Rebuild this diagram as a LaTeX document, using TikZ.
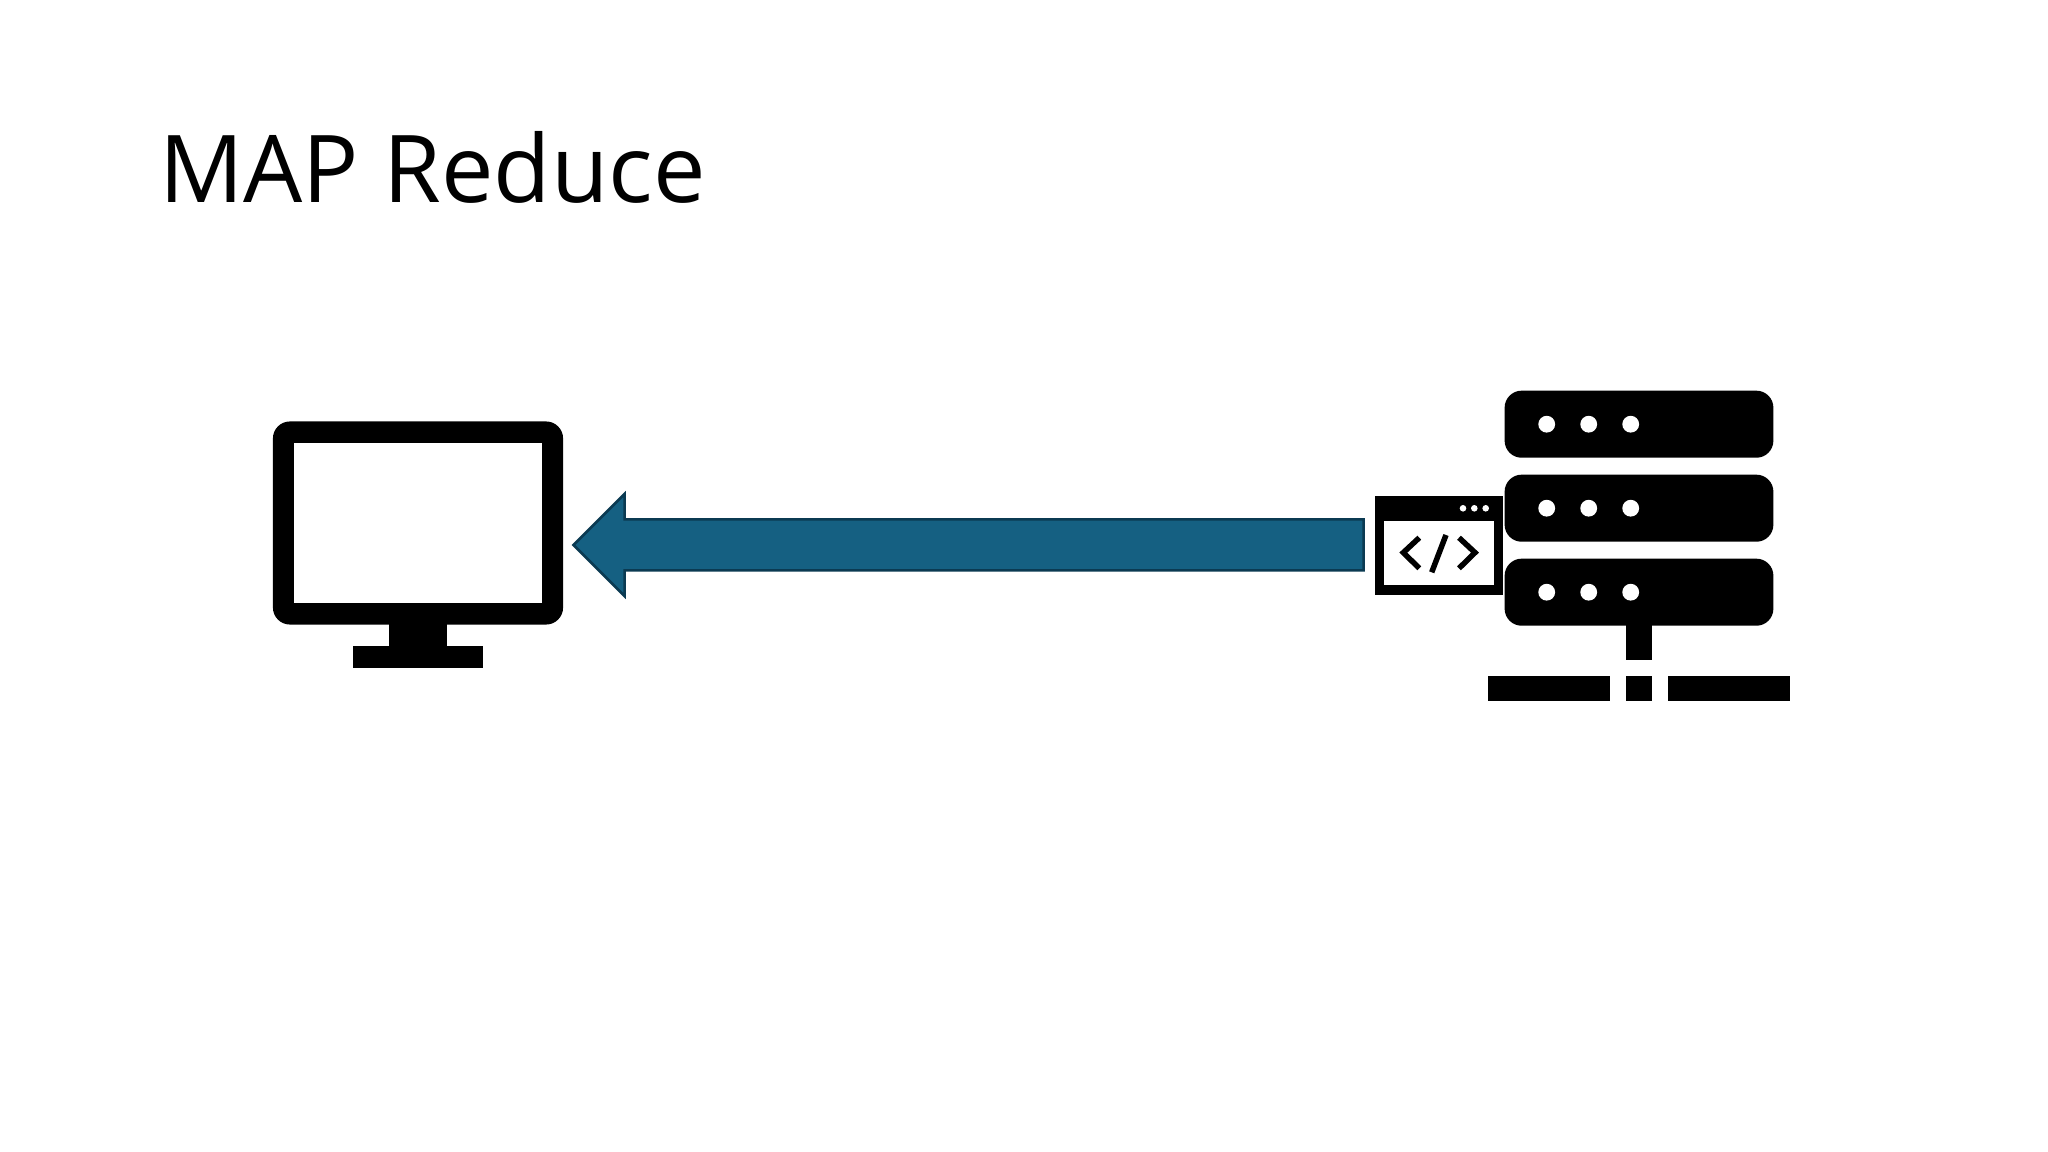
\documentclass[tikz,border=0pt]{standalone}
\usepackage{fontspec}
\setmainfont{Open Sans}
\definecolor{flowfill}{HTML}{156082}
\definecolor{flowline}{HTML}{0B3A52}
\begin{document}
\begin{tikzpicture}
    [x=0.01cm, y=-0.01cm,
    solid/.style={fill=black, inner sep=0, outer sep=0},
    hole/.style={fill=white, inner sep=0, outer sep=0},
    rack/.style={solid, rounded corners=0.17cm, minimum width=2.686cm, minimum height=0.67cm},
    bar/.style={solid, minimum width=1.217cm, minimum height=0.253cm},
    led/.style={hole, circle, minimum size=0.168cm},
    winled/.style={hole, circle, minimum size=0.066cm},
    code/.style={line width=0.055cm}]
    \useasboundingbox (0,0) rectangle (2048,1152);
    \node[anchor=base west, inner sep=0, font=\fontsize{26.6}{30}\selectfont] (title) at (158.5,202.7) {MAP Reduce};
    % monitor
    \node[solid, minimum width=0.58cm, minimum height=0.46cm] (neck) at (418,637) {};
    \node[solid, minimum width=1.306cm, minimum height=0.22cm] (foot) at (418,657.3) {};
    \node[rack, minimum width=2.9cm, minimum height=2.03cm] (monitor) at (418,523) {};
    \node[hole, minimum width=2.47cm, minimum height=1.597cm] (screen) at (418,522.9) {};
    % arrow
    \draw[fill=flowfill, draw=flowline, line width=0.025cm, miter limit=10]
        (1363.5,519.5) -- (624.5,519.5) -- (624.5,494) -- (573.5,545) -- (624.5,596) -- (624.5,570.5) -- (1363.5,570.5) -- cycle;
    % servers
    \node[solid, minimum width=0.254cm, minimum height=0.35cm] (stem) at (1639,642) {};
    \foreach \i/\y in {1/424.2, 2/508.2, 3/592.2} {
        \node[rack] (r\i) at (1639,\y) {};
        \foreach \x in {1546.7, 1588.7, 1630.7}
            \node[led] at (\x,\y) {};
    }
    \node[bar] (left) at (1548.8,688.7) {};
    \node[bar, minimum width=0.254cm] (mid) at (1639,688.7) {};
    \node[bar] (right) at (1729.2,688.7) {};
    % code window
    \node[solid, minimum width=1.283cm, minimum height=0.99cm] (window) at (1438.9,545.2) {};
    \node[hole, minimum width=1.094cm, minimum height=0.643cm] (pane) at (1439,553.2) {};
    \foreach \x in {1463, 1474.3, 1485.7}
        \node[winled] at (\x,508.3) {};
    \draw[code] (1419.3,537.7) -- (1403.3,552.6) -- (1419.3,568.3);
    \draw[code] (1459,537.7) -- (1475,552.6) -- (1459,568.3);
    \draw[code] (1446,535) -- (1431.7,572.3);
\end{tikzpicture}
\end{document}
